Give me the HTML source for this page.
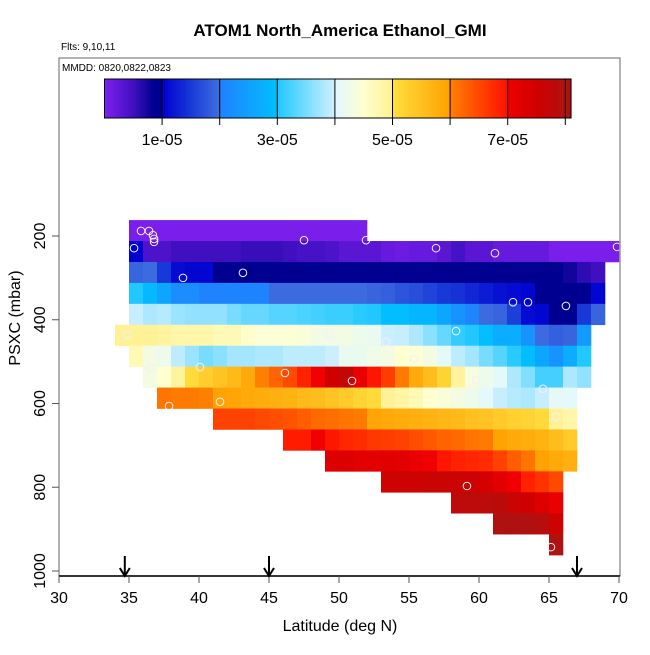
<!DOCTYPE html>
<html><head><meta charset="utf-8"><style>
body{margin:0;background:#fff;}
svg text{font-family:"Liberation Sans",sans-serif;}
</style></head><body>
<svg id="chart" width="650" height="650" viewBox="0 0 650 650" xmlns="http://www.w3.org/2000/svg">
<text x="340" y="36" text-anchor="middle" font-size="17" font-weight="bold">ATOM1 North_America Ethanol_GMI</text>
<text x="61" y="50" font-size="10">Flts: 9,10,11</text>
<text x="62" y="71" font-size="10">MMDD: 0820,0822,0823</text>
<g id="cells"></g>
<g id="pts"></g>
<g id="cbar"></g>
<rect x="59" y="58" width="561" height="518" fill="none" stroke="#888" stroke-width="1.3"/>
<line x1="59" y1="576" x2="620" y2="576" stroke="#000" stroke-width="1.5"/>
<g id="axes"></g>
<text x="340" y="631" text-anchor="middle" font-size="16">Latitude (deg N)</text>
<text transform="translate(20,318) rotate(-90)" text-anchor="middle" font-size="16">PSXC (mbar)</text>
</svg>
<script>
const rowLat0 = [35,35,35,35,35,34,35,36,37,41,46,49,53,58,61,65];
const rowVals = [
[.05,.05,.05,.05,.05,.05,.05,.05,.05,.05,.05,.05,.05,.05,.05,.05,.05],
[1.0,.4,.4,.5,.5,.5,.5,.5,.55,.55,.55,.5,.45,.45,.4,.3,.3,.3,.2,.15,.2,.2,.3,.45,.3,.3,.2,.2,.2,.2,.05,.05,.05,.05,.05],
[1.9,1.95,1.5,1.1,1.05,1.05,.9,.95,.95,.95,.98,.98,.98,.98,.98,.98,.98,.98,.98,.98,.98,.98,.98,.98,.98,.98,.98,.9,.9,.85,.85,.75,.6,.5],
[3.0,2.9,2.6,2.2,2.2,2.05,2.05,2.05,2.05,2.05,1.95,1.95,1.95,1.95,1.95,1.95,1.95,1.9,1.85,1.75,1.7,1.6,1.5,1.45,1.35,1.25,1.15,1.1,1.05,.98,.98,.95,.9,1.05],
[3.95,3.8,3.85,3.7,3.65,3.65,3.65,3.5,3.4,3.4,3.3,3.3,3.25,3.2,3.15,3.15,3.05,3.0,2.95,2.95,2.85,2.85,2.6,2.3,2.1,1.95,1.9,1.55,1.1,1.05,.98,.98,1.5,1.9],
[4.95,4.95,4.95,4.9,4.8,4.8,4.8,4.7,4.7,4.55,4.45,4.45,4.45,4.4,4.3,4.3,4.3,4.2,4.15,3.98,3.95,3.8,3.6,3.4,3.1,3.0,2.95,2.7,2.7,2.3,1.95,1.85,1.9,2.4],
[4.7,4.3,4.2,3.9,3.7,3.5,3.6,3.75,3.75,3.8,3.8,3.9,3.9,3.9,3.98,4.15,4.15,4.25,4.3,4.5,4.45,4.3,4.05,3.9,3.75,3.5,3.3,3.05,2.95,2.6,2.3,2.7,3.0],
[4.3,4.5,4.9,5.1,5.3,5.45,5.6,5.85,6.0,6.25,6.5,6.85,7.0,7.5,7.7,7.1,6.95,6.6,6.05,5.85,5.55,5.2,4.9,4.35,4.2,4.05,3.8,3.55,3.2,3.2,3.8,3.65],
[6.1,6.05,6.05,6.0,5.95,5.9,5.85,5.8,5.75,5.7,5.6,5.55,5.45,5.35,5.2,5.1,4.95,4.85,4.7,4.5,4.4,4.3,4.2,4.05,3.95,3.85,3.8,3.95,4.1,4.05],
[6.55,6.55,6.55,6.5,6.45,6.4,6.3,6.2,6.15,6.1,6.05,5.9,5.85,5.8,5.75,5.7,5.65,5.6,5.5,5.45,5.35,5.25,5.2,5.1,4.95,4.8],
[6.9,6.9,7.0,6.95,6.8,6.75,6.65,6.6,6.55,6.45,6.35,6.25,6.2,6.1,6.05,5.95,5.85,5.8,5.7,5.55,5.35],
[7.3,7.3,7.2,7.2,7.25,7.2,7.1,7.0,6.95,6.85,6.8,6.75,6.55,6.3,6.1,5.95,5.85,5.75],
[7.55,7.55,7.55,7.6,7.6,7.6,7.55,7.4,7.2,7.0,6.85,6.7,6.5],
[7.8,7.8,7.8,7.85,7.6,7.5,7.3,7.1],
[8.05,8.05,8.05,7.9,7.55],
[8.15]
];
const rowP0 = [162,212,262,312,362,412,462,512,562,612,662,712,762,812,862,912];
const ptLat = [35.86,36.43,36.71,36.79,36.79,35.36,47.5,38.86,43.14,34.86,49.29,36.57,40.07,46.14,50.93,37.86,41.5,51.93,56.93,61.14,69.86,62.43,63.5,66.21,58.36,53.36,55.36,59.79,64.57,65.5,59.14,65.14];
const ptP = [188,188,198,207,214,229,210,300,288,436,436,515,513,527,546,606,596,210,229,241,226,358,358,367,427,453,494,544,565,632,797,943];
const xTicks = [30,35,40,45,50,55,60,65,70];
const yTicks = [200,400,600,800,1000];
const arrowLat = [34.7,45,67];
const cbTicks = [1,2,3,4,5,6,7,8];
const cbLabels = ["1e-05","","3e-05","","5e-05","","7e-05",""];

const X = lat => 59 + 14*(lat-30);
const Y = p => 152.25 + 0.41875*p;
const CB = v => 104.5 + 57.6*v;
const segs = [
 [0,1,[[0,'#8020f0'],[.5,'#4010c0'],[.85,'#000090'],[1,'#000090']]],
 [1,2,[[1,'#0000d0'],[1.5,'#1838d8'],[2,'#4070e0']]],
 [2,3,[[2,'#2080ff'],[3,'#00c0ff']]],
 [3,4,[[3,'#20c8ff'],[4,'#d0f0ff']]],
 [4,5,[[4,'#e0f8ff'],[4.5,'#ffffd0'],[5,'#fff090']]],
 [5,6,[[5,'#ffe040'],[6,'#ffa000']]],
 [6,7,[[6,'#ff8000'],[7,'#ff1000']]],
 [7,9,[[7,'#f00000'],[7.5,'#d00000'],[8,'#b01010'],[9,'#a02020']]]
];
function hex(c){return [1,3,5].map(i=>parseInt(c.substr(i,2),16));}
function color(v){
 v=Math.max(0,Math.min(8.99,v));
 for(const s of segs){ if(v>=s[0]&&v<s[1]){ const st=s[2];
  for(let i=0;i<st.length-1;i++){ if(v>=st[i][0]&&v<=st[i+1][0]){
   const t=(v-st[i][0])/(st[i+1][0]-st[i][0]); const a=hex(st[i][1]),b=hex(st[i+1][1]);
   return 'rgb('+a.map((x,k)=>Math.round(x+(b[k]-x)*t)).join(',')+')';}}}}
 return '#000';
}
const NS='http://www.w3.org/2000/svg';
function mk(tag,attrs,parent){const e=document.createElementNS(NS,tag);for(const k in attrs)e.setAttribute(k,attrs[k]);parent.appendChild(e);return e;}
const cells=document.getElementById('cells');
rowVals.forEach((row,r)=>{row.forEach((v,i)=>{
 const x0=X(rowLat0[r]+i), y0=Y(rowP0[r]), y1=Y(rowP0[r]+50);
 const c=mk('rect',{x:x0,y:y0,width:X(rowLat0[r]+i+1)-x0+0.3,height:y1-y0+0.3,fill:color(v)},cells);
 
 
});});
const pts=document.getElementById('pts');
ptLat.forEach((la,i)=>{
 const c=mk('circle',{cx:X(la),cy:Y(ptP[i]),r:3.8,fill:'none',stroke:'#f4eef8','stroke-width':1},pts);
 
 
});
const cb=document.getElementById('cbar');
for(let v=0; v<8.1; v+=0.05){
 const r=mk('rect',{x:CB(v),y:79,width:Math.min(57.6*0.05+0.4,CB(8.1)-CB(v)),height:39,fill:color(v+0.025)},cb);
 
 
}
mk('rect',{x:CB(0),y:79,width:CB(8.1)-CB(0),height:39,fill:'none',stroke:'#000','stroke-width':1},cb);
cbTicks.forEach((t,i)=>{
 mk('line',{x1:CB(t),y1:79,x2:CB(t),y2:125,stroke:'#000','stroke-width':1},cb);
 if(cbLabels[i]){const tx=mk('text',{x:CB(t),y:145,'text-anchor':'middle','font-size':16},cb);tx.textContent=cbLabels[i];
  
  }
});
const ax=document.getElementById('axes');
xTicks.forEach(t=>{
 mk('line',{x1:X(t),y1:576,x2:X(t),y2:583,stroke:'#555'},ax);
 const tx=mk('text',{x:X(t),y:603,'text-anchor':'middle','font-size':16},ax);tx.textContent=t;
 
 
});
yTicks.forEach(t=>{
 mk('line',{x1:52,y1:Y(t),x2:59,y2:Y(t),stroke:'#555'},ax);
 const tx=mk('text',{transform:'translate(45,'+Y(t)+') rotate(-90)','text-anchor':'middle','font-size':16},ax);tx.textContent=t;
 
 
});
arrowLat.forEach(la=>{
 const g=mk('g',{},ax);
 
 
 mk('line',{x1:X(la),y1:556,x2:X(la),y2:575,stroke:'#000','stroke-width':2},g);
 mk('path',{d:'M'+(X(la)-5)+' 568 L'+X(la)+' 576 L'+(X(la)+5)+' 568',fill:'none',stroke:'#000','stroke-width':2},g);
});
</script>
</body></html>
